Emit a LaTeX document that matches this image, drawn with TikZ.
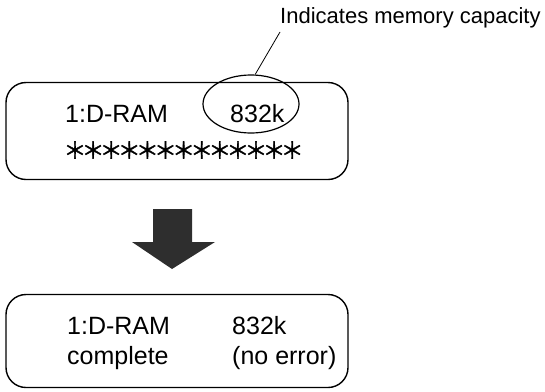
\documentclass[tikz,border=0pt]{standalone}
\usepackage{fontspec}
\setmainfont{Liberation Sans}
\newfontfamily\cjkf[FakeBold=1.5]{Noto Sans CJK SC}
\usetikzlibrary{shapes.geometric}
\definecolor{arrowgray}{HTML}{2E2E2E}
\begin{document}
\begin{tikzpicture}[x=1pt,y=-1pt,
  box/.style={draw, line width=1.4pt, rounded corners=20pt, inner sep=0pt},
  txt/.style={anchor=base west, inner sep=0pt, font=\fontsize{25}{30}\selectfont},
  lbl/.style={anchor=base west, inner sep=0pt, font=\fontsize{22}{26}\selectfont},
  star/.style={inner sep=0pt, font=\cjkf\fontsize{23}{23}\selectfont},
  ring/.style={draw, ellipse, line width=1.2pt, inner sep=0pt},
  leader/.style={line width=0.8pt},
  bigarrow/.style={fill=arrowgray, draw=none}]
\useasboundingbox (0,0) rectangle (545,391);
% top box
\node[box, minimum width=342pt, minimum height=97pt] (b1) at (177,131) {};
\node[txt] (t1a) at (65,122) {1:D-RAM};
\node[txt] (t1b) at (230,122) {832k};
\foreach \i in {0,...,12}
  \node[star] (s\i) at (75+18.1*\i,150) {＊};
\node[ring, minimum width=96pt, minimum height=58pt] (ell) at (251,104) {};
% label
\node[lbl] (lab) at (280,23) {Indicates memory capacity};
\coordinate (labfoot) at (280,32);
\draw[leader] (ell.82) -- (labfoot);
% big arrow
\path[bigarrow] (153,209) -- (192,209) -- (192,242) -- (215,242) -- (172,269) -- (132,242) -- (153,242) -- cycle;
% bottom box
\node[box, minimum width=342pt, minimum height=93pt] (b2) at (177,341) {};
\node[txt] (t2a) at (67,334) {1:D-RAM};
\node[txt] (t2b) at (232,334) {832k};
\node[txt] (t2c) at (67,364) {complete};
\node[txt] (t2d) at (232,364) {(no error)};
\end{tikzpicture}
\end{document}
